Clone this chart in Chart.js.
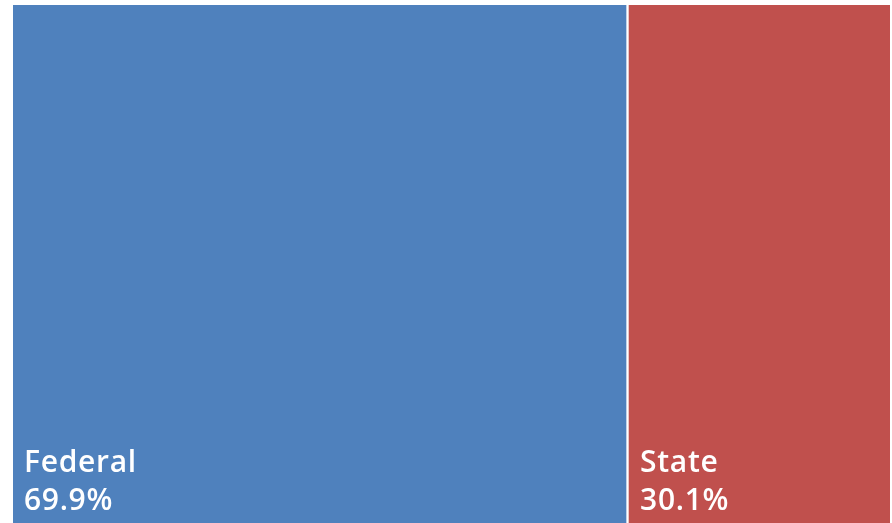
<!DOCTYPE html>
<html>
<head>
<meta charset="utf-8">
<script src="https://cdn.jsdelivr.net/npm/chart.js@4.4.1/dist/chart.umd.min.js"></script>
<style>
  html, body { margin: 0; padding: 0; background: #ffffff; }
  #wrap { width: 892px; height: 523px; position: relative; }
</style>
</head>
<body>
<div id="wrap"><canvas id="chart"></canvas></div>
<script>
// Share of spending by level of government (percent)
const categories = ['Federal', 'State'];
const shares = [69.9, 30.1];
const colors = ['#4F81BD', '#C0504D'];

const datasets = categories.map((name, i) => ({
  label: name,
  data: [shares[i]],
  backgroundColor: colors[i],
  borderColor: '#ffffff',
  borderWidth: i === 0 ? 0 : { left: 3, top: 0, right: 0, bottom: 0 },
  borderSkipped: false,
  barPercentage: 1,
  categoryPercentage: 1
}));

// Writes the name and share in the lower-left corner of each block
const blockLabels = {
  id: 'blockLabels',
  afterDatasetsDraw(chart) {
    const ctx = chart.ctx;
    ctx.save();
    ctx.fillStyle = '#ffffff';
    ctx.textAlign = 'left';
    ctx.textBaseline = 'alphabetic';
    ctx.font = '600 30px "Open Sans"';
    ctx.letterSpacing = '0.7px';
    chart.data.datasets.forEach((ds, i) => {
      const bar = chart.getDatasetMeta(i).data[0];
      const left = Math.min(bar.base, bar.x);
      const x = left + (i === 0 ? 11 : 14);
      ctx.fillText(ds.label, x, 472);
      ctx.fillText(ds.data[0].toFixed(1) + '%', x, 510);
    });
    ctx.restore();
  }
};

new Chart(document.getElementById('chart'), {
  type: 'bar',
  data: { labels: ['Total'], datasets },
  options: {
    indexAxis: 'y',
    responsive: true,
    maintainAspectRatio: false,
    animation: false,
    layout: { padding: { left: 13, top: 5, right: 2, bottom: 0 } },
    scales: {
      x: { stacked: true, min: 0, max: 100, display: false },
      y: { stacked: true, display: false }
    },
    plugins: { legend: { display: false }, tooltip: { enabled: false } }
  },
  plugins: [blockLabels]
});
</script>
</body>
</html>
